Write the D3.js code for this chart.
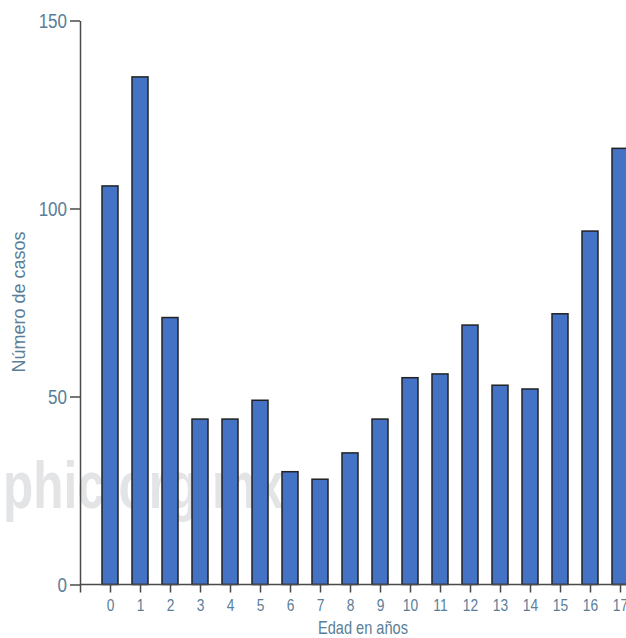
<!DOCTYPE html>
<html lang="es">
<head>
<meta charset="utf-8">
<title>Casos por edad</title>
<script src="https://d3js.org/d3.v7.min.js"></script>
<style>
  body { margin: 0; background: #fff; }
  svg text { font-family: "Liberation Sans", Arial, sans-serif; fill: #5a7e97; }
  .axis path, .axis line { stroke: #4a4a4a; stroke-width: 1.5; }
</style>
</head>
<body>
<div id="chart"></div>
<script>
// datos
const edades = [0, 1, 2, 3, 4, 5, 6, 7, 8, 9, 10, 11, 12, 13, 14, 15, 16, 17];
const casos  = [106, 135, 71, 44, 44, 49, 30, 28, 35, 44, 55, 56, 69, 53, 52, 72, 94, 116];
const yTicks = [0, 50, 100, 150];

const width = 626, height = 638;
const marginLeft = 80, marginTop = 20.5, bottom = 584.5;
const step = 30, barWidth = 16;
const squeeze = 0.81; // texto comprimido en horizontal

const svg = d3.select("#chart").append("svg")
  .attr("width", width).attr("height", height);

// escalas
const x = d3.scaleLinear()
  .domain([-1, 17])
  .range([marginLeft, marginLeft + step * 18]);

const y = d3.scaleLinear()
  .domain([0, 150])
  .range([bottom, marginTop]);

// marca de agua
svg.append("text")
  .attr("transform", "translate(3,508) scale(0.75,1)")
  .style("font-size", "66px")
  .style("font-weight", "bold")
  .style("fill", "#e3e4e6")
  .text("phic.org.mx");

// barras
svg.append("g")
  .selectAll("rect")
  .data(edades)
  .enter()
  .append("rect")
    .attr("x", (d) => x(d) - barWidth / 2)
    .attr("y", (d, i) => y(casos[i]))
    .attr("width", barWidth)
    .attr("height", (d, i) => y(0) - y(casos[i]))
    .attr("fill", "#4472c4")
    .attr("stroke", "#222")
    .attr("stroke-width", 1.5);

// eje x
const xAxis = d3.axisBottom(x)
  .tickValues([-1].concat(edades))
  .tickFormat((d) => d < 0 ? "" : d)
  .tickSize(8)
  .tickSizeOuter(0)
  .tickPadding(6);

svg.append("g")
  .attr("class", "axis")
  .attr("transform", "translate(0," + bottom + ")")
  .call(xAxis)
  .call((g) => g.select(".domain").attr("d", "M" + marginLeft + ",0H" + (width + 20)))
  .selectAll("text")
    .style("font-size", "17px")
    .attr("transform", "scale(" + squeeze + ",1)");

// eje y
const yAxis = d3.axisLeft(y)
  .tickValues(yTicks)
  .tickSize(10)
  .tickSizeOuter(0)
  .tickPadding(3);

svg.append("g")
  .attr("class", "axis")
  .attr("transform", "translate(" + marginLeft + ",0)")
  .call(yAxis)
  .selectAll("text")
    .style("font-size", "21px")
    .attr("transform", "translate(-13,0) scale(" + squeeze + ",1) translate(13,0)");

// títulos
svg.append("text")
  .attr("transform", "translate(363,634) scale(" + squeeze + ",1)")
  .attr("text-anchor", "middle")
  .style("font-size", "18px")
  .text("Edad en años");

svg.append("text")
  .attr("transform", "translate(25,302) rotate(-90)")
  .attr("text-anchor", "middle")
  .style("font-size", "18px")
  .text("Número de casos");
</script>
</body>
</html>
